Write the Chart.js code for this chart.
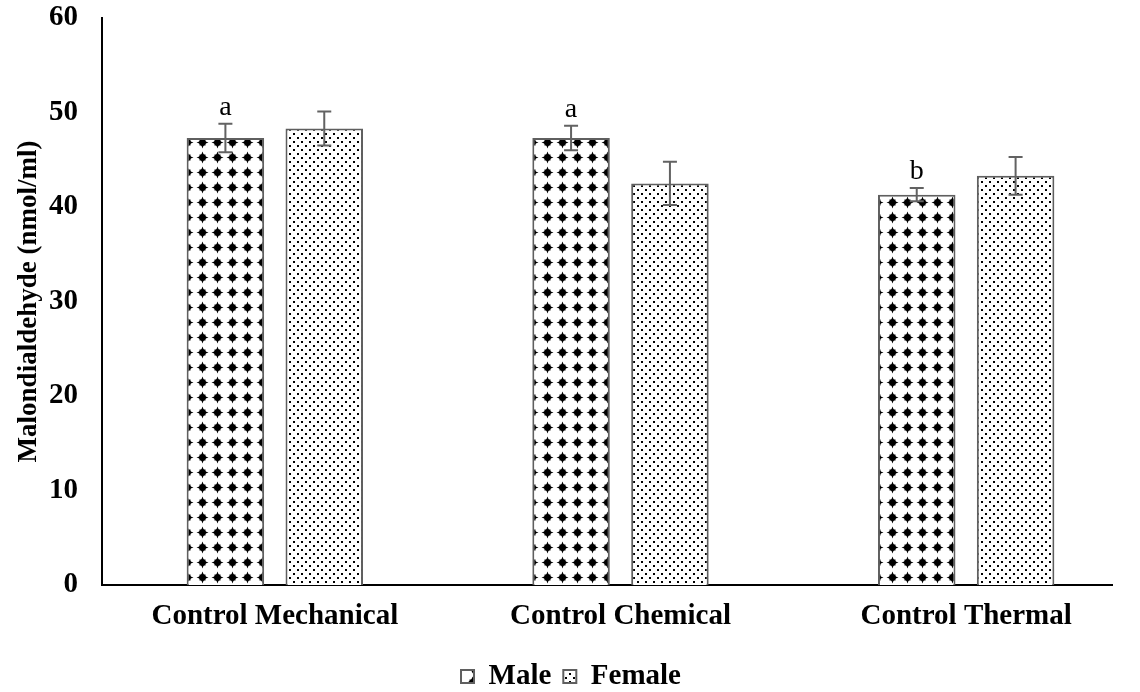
<!DOCTYPE html>
<html>
<head>
<meta charset="utf-8">
<script src="https://cdn.jsdelivr.net/npm/chart.js@4.4.1/dist/chart.umd.min.js"></script>
<style>
html,body{margin:0;padding:0;background:#fff;}
#wrap{width:1140px;height:692px;}
</style>
</head>
<body>
<div id="wrap"><canvas id="c" width="1140" height="692"></canvas></div>
<script>
const categories = ['Control Mechanical', 'Control Chemical', 'Control Thermal'];
const maleValues = [47.3, 47.3, 41.3];
const maleErrors = [1.5, 1.3, 0.7];
const femaleValues = [48.3, 42.5, 43.3];
const femaleErrors = [1.8, 2.3, 2.0];
const maleLetters = ['a', 'a', 'b'];
const femaleLetters = ['', '', ''];
const yTicks = [0, 10, 20, 30, 40, 50, 60];

const FONT = "'Liberation Serif', 'Times New Roman', serif";

function makeDiamondPattern() {
  const s = 15;
  const cv = document.createElement('canvas');
  cv.width = s; cv.height = s;
  const g = cv.getContext('2d');
  g.fillStyle = '#fff';
  g.fillRect(0, 0, s, s);
  g.fillStyle = '#000';
  const cx = 7.5, cy = 7.5, r = 6;
  g.beginPath();
  g.moveTo(cx, cy - r);
  g.quadraticCurveTo(cx + 1.2, cy - 1.2, cx + r, cy);
  g.quadraticCurveTo(cx + 1.2, cy + 1.2, cx, cy + r);
  g.quadraticCurveTo(cx - 1.2, cy + 1.2, cx - r, cy);
  g.quadraticCurveTo(cx - 1.2, cy - 1.2, cx, cy - r);
  g.fill();
  g.fillRect(cx - 3, cy - 3, 6, 6);
  return g.createPattern(cv, 'repeat');
}
function makeDotPattern() {
  const s = 8;
  const cv = document.createElement('canvas');
  cv.width = s; cv.height = s;
  const g = cv.getContext('2d');
  g.fillStyle = '#fff';
  g.fillRect(0, 0, s, s);
  g.fillStyle = '#000';
  g.fillRect(1, 1, 2, 2);
  g.fillRect(5, 5, 2, 2);
  return g.createPattern(cv, 'repeat');
}

const errorPlugin = {
  id: 'errorBars',
  beforeDatasetsDraw(chart) {
    const a = chart.chartArea;
    const ctx = chart.ctx;
    ctx.save();
    ctx.strokeStyle = '#000';
    ctx.lineWidth = 2;
    ctx.beginPath();
    ctx.moveTo(a.left - 1, a.bottom);
    ctx.lineTo(a.right - 26, a.bottom);
    ctx.stroke();
    ctx.restore();
  },
  afterDatasetsDraw(chart) {
    const ctx = chart.ctx;
    const y = chart.scales.y;
    const errs = [maleErrors, femaleErrors];
    const letters = [maleLetters, femaleLetters];
    ctx.save();
    chart.data.datasets.forEach((ds, di) => {
      const meta = chart.getDatasetMeta(di);
      meta.data.forEach((bar, i) => {
        const v = ds.data[i];
        const e = errs[di][i];
        const x = bar.x;
        const yt = y.getPixelForValue(v + e);
        const yb = y.getPixelForValue(v - e);
        ctx.strokeStyle = '#626262';
        ctx.lineWidth = 2;
        ctx.beginPath();
        ctx.moveTo(x, yt); ctx.lineTo(x, yb);
        ctx.moveTo(x - 7, yt); ctx.lineTo(x + 7, yt);
        ctx.moveTo(x - 7, yb); ctx.lineTo(x + 7, yb);
        ctx.stroke();
        const L = letters[di][i];
        if (L) {
          ctx.fillStyle = '#000';
          ctx.font = '28px ' + FONT;
          ctx.textAlign = 'center';
          ctx.textBaseline = 'alphabetic';
          ctx.fillText(L, x, yt - 9);
        }
      });
    });
    ctx.restore();
  }
};

new Chart(document.getElementById('c'), {
  type: 'bar',
  data: {
    labels: categories,
    datasets: [
      { label: 'Male', data: maleValues, backgroundColor: makeDiamondPattern(), borderColor: '#5f5f5f', borderWidth: 2 },
      { label: 'Female', data: femaleValues, backgroundColor: makeDotPattern(), borderColor: '#5f5f5f', borderWidth: 2 }
    ]
  },
  options: {
    responsive: false,
    animation: false,
    devicePixelRatio: 1,
    layout: { padding: { top: 0, right: 1, left: 3, bottom: -9 } },
    datasets: { bar: { categoryPercentage: 0.572, barPercentage: 0.784 } },
    plugins: {
      legend: {
        position: 'bottom',
        labels: {
          font: { family: FONT, size: 29, weight: 'bold' },
          color: '#000',
          boxWidth: 13, boxHeight: 13, padding: 12
        }
      },
      tooltip: { enabled: false }
    },
    scales: {
      x: {
        grid: { display: false, drawTicks: false },
        border: { display: false },
        ticks: { font: { family: FONT, size: 29, weight: 'bold' }, color: '#000', padding: 14 },
        afterFit(s) { s.height = 65; }
      },
      y: {
        min: 0, max: 60,
        afterBuildTicks(s) { s.ticks = yTicks.map(v => ({ value: v })); },
        grid: { display: false, drawTicks: false },
        border: { color: '#000', width: 2 },
        ticks: { font: { family: FONT, size: 29, weight: 'bold' }, color: '#000', padding: 24 },
        title: { display: true, text: 'Malondialdehyde (nmol/ml)', font: { family: FONT, size: 27, weight: 'bold' }, color: '#000', padding: { top: 10, bottom: 0 } },
        afterFit(s) { s.width = 99; s.paddingTop = 18; s.paddingBottom = 0; }
      }
    }
  },
  plugins: [errorPlugin]
});
</script>
</body>
</html>
